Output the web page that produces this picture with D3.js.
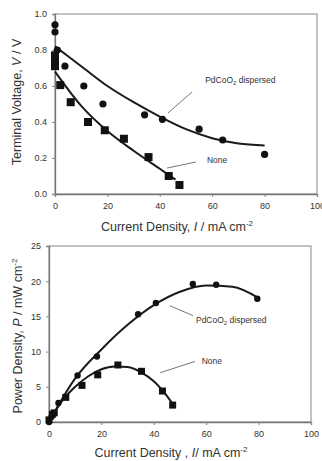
<!DOCTYPE html>
<html>
<head>
<meta charset="utf-8">
<script src="https://cdn.jsdelivr.net/npm/d3@7"></script>
<style>
  body { margin: 0; background: #fff; }
  text { font-family: "Liberation Sans", Arial, sans-serif; fill: #333; }
</style>
</head>
<body>
<div id="chart"></div>
<script>
// voltage vs current
var vPdI = [0, 0, 0.9, 3.8, 11, 18.3, 34.2, 41, 55, 64, 80];
var vPdV = [0.94, 0.90, 0.80, 0.71, 0.60, 0.50, 0.44, 0.415, 0.36, 0.30, 0.22];
var vNoneI = [0, 0, 0, 2, 6, 12.6, 19, 26.3, 35.7, 43.4, 47.5];
var vNoneV = [0.77, 0.745, 0.71, 0.605, 0.51, 0.40, 0.354, 0.307, 0.205, 0.10, 0.05];
// fitted curves
var vPdFitI = [0, 10, 20, 30, 40, 50, 60, 70, 80];
var vPdFitV = [0.82, 0.71, 0.60, 0.51, 0.43, 0.36, 0.31, 0.28, 0.27];
var vNoneFitI = [0, 10, 20, 30, 40, 46];
var vNoneFitV = [0.68, 0.49, 0.35, 0.24, 0.14, 0.08];

// power vs current
var pPdI = [0, 0.9, 3.6, 10.9, 18.3, 34, 40.8, 54.9, 63.8, 79.5];
var pPdP = [0, 0.7, 2.7, 6.6, 9.3, 15.3, 16.9, 19.6, 19.5, 17.5];
var pNoneI = [0, 1.3, 2, 6.4, 12.6, 18.6, 26.3, 35.3, 43.3, 47.2];
var pNoneP = [0.3, 1.1, 1.3, 3.5, 5.2, 6.7, 8.1, 7.2, 4.4, 2.4];
var pPdFitI = [0, 10, 20, 30, 40, 50, 60, 70, 80];
var pPdFitP = [0, 6.2, 10.3, 13.8, 16.6, 18.5, 19.4, 19.2, 17.6];
var pNoneFitI = [0, 5, 10, 15, 20, 25, 30, 35, 40, 45, 47.5];
var pNoneFitP = [0, 3.0, 5.0, 6.5, 7.5, 7.9, 7.8, 7.1, 5.8, 3.7, 2.4];

var xTicks = [0, 20, 40, 60, 80, 100];
var vTicks = [0, 0.2, 0.4, 0.6, 0.8, 1.0];
var pTicks = [0, 5, 10, 15, 20, 25];

var zip = function(a, b) {
  return a.map(function(d, i) { return [d, b[i]]; });
};

var svg = d3.select('#chart')
  .append('svg')
  .attr('width', 322)
  .attr('height', 461);

var drawPanel = function(opt) {
  var x = d3.scaleLinear().domain([0, 100]).range(opt.xr);
  var y = d3.scaleLinear().domain(opt.yd).range(opt.yr);
  var g = svg.append('g');

  g.append('rect')
    .attr('x', opt.xr[0])
    .attr('y', opt.yr[1])
    .attr('width', opt.xr[1] - opt.xr[0])
    .attr('height', opt.yr[0] - opt.yr[1])
    .attr('fill', 'none')
    .attr('stroke', '#999')
    .attr('stroke-width', 1.2);

  var xAxis = d3.axisBottom(x).tickValues(xTicks).tickSize(3).tickPadding(6)
    .tickFormat(d3.format('d'));
  var gx = g.append('g')
    .attr('transform', 'translate(0,' + opt.yr[0] + ')')
    .call(xAxis);
  var yAxis = d3.axisLeft(y).tickValues(opt.ticks).tickSize(3).tickPadding(5)
    .tickFormat(opt.fmt);
  var gy = g.append('g')
    .attr('transform', 'translate(' + opt.xr[0] + ',0)')
    .call(yAxis);
  [gx, gy].forEach(function(a) {
    a.select('.domain').attr('stroke', '#777').attr('stroke-width', 1.3);
    a.selectAll('.tick line').attr('stroke', '#888');
    a.selectAll('text')
      .style('font-family', '"Liberation Sans", Arial, sans-serif')
      .style('font-size', '9px')
      .attr('fill', '#444');
  });

  var line = d3.line()
    .x(function(d) { return x(d[0]); })
    .y(function(d) { return y(d[1]); })
    .curve(d3.curveMonotoneX);

  opt.fits.forEach(function(f) {
    g.append('path')
      .attr('d', line(f))
      .attr('fill', 'none')
      .attr('stroke', '#1a1a1a')
      .attr('stroke-width', 2);
  });

  g.selectAll('circle.pd')
    .data(opt.circles)
    .enter()
    .append('circle')
    .attr('class', 'pd')
    .attr('cx', function(d) { return x(d[0]); })
    .attr('cy', function(d) { return y(d[1]); })
    .attr('r', opt.r)
    .attr('fill', '#111');

  g.selectAll('rect.none')
    .data(opt.squares)
    .enter()
    .append('rect')
    .attr('class', 'none')
    .attr('x', function(d) { return x(d[0]) - opt.s / 2; })
    .attr('y', function(d) { return y(d[1]) - opt.s / 2; })
    .attr('width', opt.s)
    .attr('height', opt.s)
    .attr('fill', '#111');

  opt.notes.forEach(function(n) {
    g.append('line')
      .attr('x1', x(n.l[0])).attr('y1', y(n.l[1]))
      .attr('x2', x(n.l[2])).attr('y2', y(n.l[3]))
      .attr('stroke', '#666')
      .attr('stroke-width', 0.9);
    var t = g.append('text')
      .attr('x', x(n.at[0]))
      .attr('y', y(n.at[1]))
      .attr('dy', '0.35em')
      .style('font-size', '8.5px')
      .attr('fill', '#444');
    if (n.sub) {
      t.append('tspan').text('PdCoO');
      t.append('tspan').attr('font-size', '6px').attr('dy', '2').text('2');
      t.append('tspan').attr('dy', '-2').text(' dispersed');
    } else {
      t.text(n.label);
    }
  });

  // axis titles
  var xt = g.append('text')
    .attr('x', opt.xt[0])
    .attr('y', opt.xt[1])
    .attr('text-anchor', 'middle')
    .style('font-size', '12.5px');
  xt.append('tspan').text(opt.xlab);
  xt.append('tspan').attr('font-style', 'italic').text('I');
  xt.append('tspan').text(opt.xlab2);
  xt.append('tspan').attr('font-size', '8px').attr('dy', '-5').text('-2');

  var yt = g.append('text')
    .attr('transform', 'translate(' + opt.yt[0] + ',' + opt.yt[1] + ') rotate(-90)')
    .attr('text-anchor', 'middle')
    .attr('dy', '0.35em')
    .style('font-size', '12.5px');
  yt.append('tspan').text(opt.ylab);
  yt.append('tspan').attr('font-style', 'italic').text(opt.ysym);
  yt.append('tspan').text(opt.ylab2);
  if (opt.ysup) {
    yt.append('tspan').attr('font-size', '8px').attr('dy', '-5').text(opt.ysup);
  }
};

drawPanel({
  xr: [55, 317], yd: [0, 1], yr: [194, 14],
  ticks: vTicks, fmt: d3.format('.1f'),
  circles: zip(vPdI, vPdV), squares: zip(vNoneI, vNoneV),
  fits: [zip(vPdFitI, vPdFitV), zip(vNoneFitI, vNoneFitV)],
  r: 3.6, s: 8,
  notes: [
    { at: [57.3, 0.633], l: [52.3, 0.567, 43.1, 0.45], sub: true },
    { at: [58, 0.19], l: [53.8, 0.178, 42.7, 0.144], label: 'None' }
  ],
  xt: [177, 231], xlab: 'Current Density, ', xlab2: ' / mA cm',
  yt: [17, 102], ylab: 'Terminal Voltage, ', ysym: 'V', ylab2: ' / V'
});

drawPanel({
  xr: [49, 311], yd: [0, 25], yr: [422, 246],
  ticks: pTicks, fmt: d3.format('d'),
  circles: zip(pPdI, pPdP), squares: zip(pNoneI, pNoneP),
  fits: [zip(pPdFitI, pPdFitP), zip(pNoneFitI, pNoneFitP)],
  r: 3.2, s: 7,
  notes: [
    { at: [56.1, 14.5], l: [46.2, 16.5, 55, 15.1], sub: true },
    { at: [58.3, 8.6], l: [42.4, 7.0, 55.7, 8.6], label: 'None' }
  ],
  xt: [171, 457], xlab: 'Current Density , ', xlab2: '/ mA cm',
  yt: [18, 336], ylab: 'Power Density, ', ysym: 'P', ylab2: ' / mW cm', ysup: '-2'
});
</script>
</body>
</html>
